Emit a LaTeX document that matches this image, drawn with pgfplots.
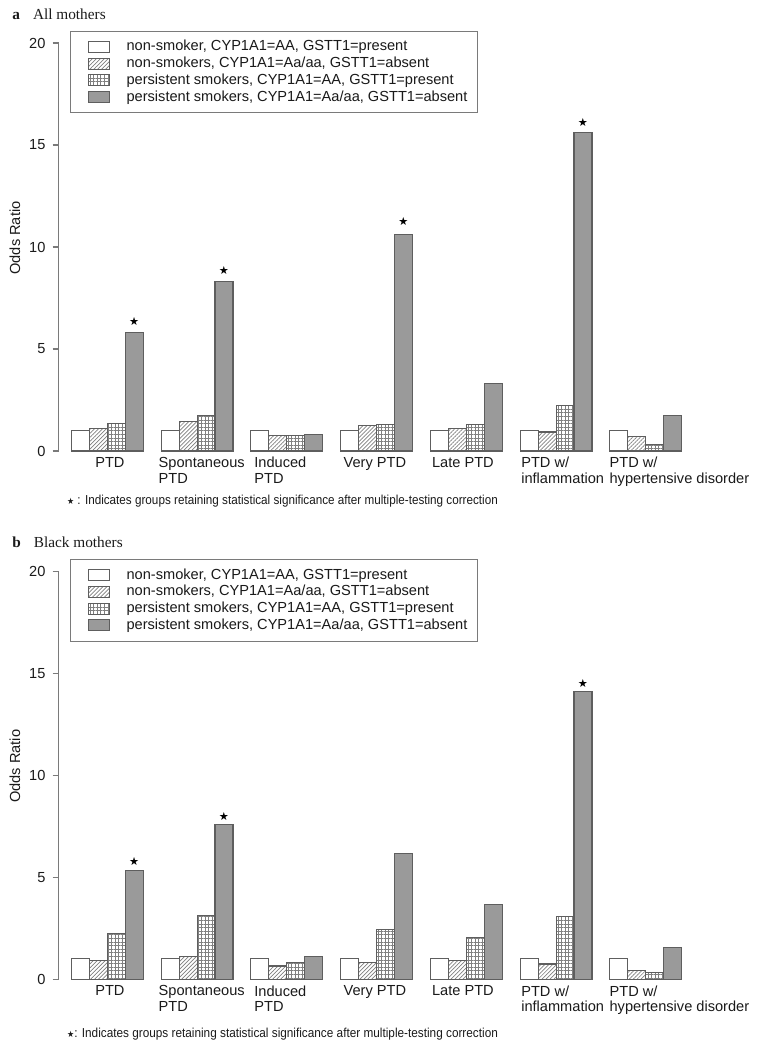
\documentclass[border=0pt]{standalone}
\usepackage{pgfplots}
\pgfplotsset{compat=1.18}
\usetikzlibrary{patterns.meta}
\usepackage{fontspec}
\setmainfont{Liberation Sans}
\newfontfamily\seriffont{Liberation Serif}
\newfontfamily\symfont{DejaVu Sans}
\definecolor{barline}{HTML}{5E5E5E}
\definecolor{darkfill}{HTML}{9A9A9A}
\definecolor{axisgray}{HTML}{7A7A7A}
\definecolor{hatchgray}{HTML}{808080}
\definecolor{txt}{HTML}{1A1A1A}
\newcommand\lblfont{\fontsize{7.3}{7.75}\selectfont}

\pgfplotsset{
  panel/.style={
    scale only axis, width=317pt, height=204pt,
    xmin=-0.72, xmax=34.6, ymin=0, ymax=20,
    axis lines*=left,
    x axis line style={draw=none},
    y axis line style={draw=axisgray, line width=0.6pt},
    tick align=outside, major tick length=3pt,
    xtick style={draw=none},
    ytick style={draw=axisgray, line width=0.6pt},
    ytick={0,5,10,15,20},
    /pgf/number format/assume math mode=true,
    yticklabel style={font=\lblfont, text=txt},
    xtick={1.31,4.84,10.17,15.14,20.07,25.04,29.96},
    xticklabels={PTD,Spontaneous\\PTD,Induced\\PTD,Very PTD,Late PTD,PTD w/\\inflammation,PTD w/\\hypertensive disorder},
    xticklabel style={anchor=north west, align=left, font=\lblfont, text=txt, inner sep=0pt},
    ylabel={Odds Ratio},
    ylabel style={at={(axis description cs:-0.0686,0.522)}, anchor=center, rotate=0, font=\lblfont, text=txt},
    legend cell align=left,
    legend style={at={(axis description cs:0,1)}, anchor=north west, xshift=5.75pt, yshift=6.2pt,
      draw=axisgray, line width=0.5pt, inner xsep=5pt, inner ysep=4.4pt, row sep=1.35pt,
      font=\lblfont, text=txt,
      nodes={inner sep=0pt, text height=5.5pt, text depth=1.5pt}},
  },
  bars/.style={ybar, bar width=1, bar shift=0pt, draw=barline, line width=0.55pt,
    legend image code/.code={\path (0pt,0pt) (22.5pt,0pt); \draw[##1,/tikz/.cd] (3.5pt,-2.75pt) rectangle (14pt,2.75pt);}},
  s1/.style={bars, fill=white},
  s2/.style={bars, fill=white, postaction={pattern={Lines[angle=45,distance=1.4pt,line width=0.35pt]}, pattern color=hatchgray}},
  s3/.style={bars, fill=white, postaction={pattern={Hatch[distance=1.8pt,line width=0.35pt]}, pattern color=hatchgray}},
  s4/.style={bars, fill=darkfill},
  stars/.style={only marks, mark=text, text mark={\symfont\fontsize{5.6}{6}\selectfont ★}, forget plot},
}

\begin{document}
\begin{tikzpicture}
\useasboundingbox (-29.25pt,225.5pt) rectangle (350.75pt,-299.5pt);

% ---------- panel a ----------
\begin{axis}[panel, name=A, at={(0pt,0pt)}, anchor=south west]
\addplot[s1] coordinates {(0.5,1.0) (5.5,1.0) (10.5,1.0) (15.5,1.0) (20.5,1.0) (25.5,1.0) (30.5,1.0)};
\addlegendentry{non-smoker, CYP1A1=AA, GSTT1=present}
\addplot[s2] coordinates {(1.5,1.11) (6.5,1.43) (11.5,0.75) (16.5,1.26) (21.5,1.11) (26.5,0.93) (31.5,0.73)};
\addlegendentry{non-smokers, CYP1A1=Aa/aa, GSTT1=absent}
\addplot[s3] coordinates {(2.5,1.34) (7.5,1.76) (12.5,0.75) (17.5,1.32) (22.5,1.32) (27.5,2.25) (32.5,0.34)};
\addlegendentry{persistent smokers, CYP1A1=AA, GSTT1=present}
\addplot[s4] coordinates {(3.5,5.80) (8.5,8.31) (13.5,0.82) (18.5,10.60) (23.5,3.33) (28.5,15.60) (33.5,1.74)};
\addlegendentry{persistent smokers, CYP1A1=Aa/aa, GSTT1=absent}
\addplot[stars] coordinates {(3.5,6.35) (8.5,8.86) (18.5,11.25) (28.5,16.12)};
\end{axis}
\node[anchor=base west, inner sep=0pt, font=\seriffont\fontsize{7.65}{9}\selectfont, text=txt] at ([xshift=-23.25pt,yshift=11.95pt]A.north west) {\textbf{a}\hspace{6.5pt}All mothers};
\node[anchor=west, inner sep=0pt, text=txt] at ([xshift=4.1pt,yshift=-25pt]A.south west)
  {\resizebox{215.4pt}{\height}{\fontsize{6.5}{8}\selectfont{\symfont\fontsize{4.4}{5}\selectfont ★} : Indicates groups retaining statistical significance after multiple-testing correction}};

% ---------- panel b ----------
\begin{axis}[panel, name=B, at={(0pt,-264.15pt)}, anchor=south west]
\addplot[s1] coordinates {(0.5,1.0) (5.5,1.0) (10.5,1.0) (15.5,1.0) (20.5,1.0) (25.5,1.0) (30.5,1.0)};
\addlegendentry{non-smoker, CYP1A1=AA, GSTT1=present}
\addplot[s2] coordinates {(1.5,0.93) (6.5,1.14) (11.5,0.65) (16.5,0.82) (21.5,0.93) (26.5,0.75) (31.5,0.44)};
\addlegendentry{non-smokers, CYP1A1=Aa/aa, GSTT1=absent}
\addplot[s3] coordinates {(2.5,2.26) (7.5,3.12) (12.5,0.82) (17.5,2.45) (22.5,2.06) (27.5,3.07) (32.5,0.34)};
\addlegendentry{persistent smokers, CYP1A1=AA, GSTT1=present}
\addplot[s4] coordinates {(3.5,5.35) (8.5,7.57) (13.5,1.14) (18.5,6.15) (23.5,3.65) (28.5,14.11) (33.5,1.54)};
\addlegendentry{persistent smokers, CYP1A1=Aa/aa, GSTT1=absent}
\addplot[stars] coordinates {(3.5,5.80) (8.5,7.99) (28.5,14.50)};
\end{axis}
\node[anchor=base west, inner sep=0pt, font=\seriffont\fontsize{7.65}{9}\selectfont, text=txt] at ([xshift=-23.25pt,yshift=11.95pt]B.north west) {\textbf{b}\hspace{6.5pt}Black mothers};
\node[anchor=west, inner sep=0pt, text=txt] at ([xshift=4.1pt,yshift=-27.35pt]B.south west)
  {\resizebox{215.4pt}{\height}{\fontsize{6.5}{8}\selectfont{\symfont\fontsize{4.4}{5}\selectfont ★}: Indicates groups retaining statistical significance after multiple-testing correction}};
\end{tikzpicture}
\end{document}
